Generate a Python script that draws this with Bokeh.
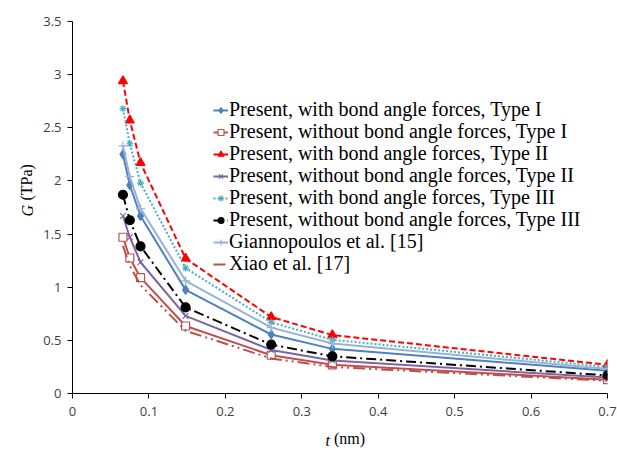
from bokeh.plotting import figure
from bokeh.models import FixedTicker, CustomJSTickFormatter, Legend, LegendItem, Label
from bokeh.embed import file_html
from bokeh.resources import INLINE
import math

# ---- data ----
t_nm = [0.066, 0.075, 0.089, 0.148, 0.26, 0.34, 0.70]
with_I = [2.25, 1.96, 1.67, 0.975, 0.555, 0.42, 0.215]
without_I = [1.47, 1.275, 1.09, 0.635, 0.36, 0.27, 0.13]
with_II = [2.94, 2.57, 2.17, 1.27, 0.72, 0.55, 0.27]
without_II = [1.67, 1.47, 1.235, 0.73, 0.41, 0.31, 0.15]
with_III = [2.68, 2.35, 1.98, 1.18, 0.67, 0.505, 0.25]
without_III = [1.87, 1.63, 1.385, 0.81, 0.46, 0.35, 0.17]
giannopoulos = [2.33, 2.04, 1.74, 1.06, 0.62, 0.47, 0.23]
xiao = [1.39, 1.20, 1.02, 0.59, 0.33, 0.25, 0.12]

x_ticks = [0, 0.1, 0.2, 0.3, 0.4, 0.5, 0.6, 0.7]
y_ticks = [0, 0.5, 1, 1.5, 2, 2.5, 3, 3.5]

names = [
    "Present, with bond angle forces, Type I",
    "Present, without bond angle forces, Type I",
    "Present, with bond angle forces, Type II",
    "Present, without bond angle forces, Type II",
    "Present, with bond angle forces, Type III",
    "Present, without bond angle forces, Type III",
    "Giannopoulos et al. [15]",
    "Xiao et al. [17]",
]

p = figure(frame_width=535, frame_height=372, output_backend="svg", toolbar_location=None,
           x_range=(0, 0.7), y_range=(0, 3.5),
           min_border_left=72, min_border_right=10, min_border_top=21, min_border_bottom=57)
p.outline_line_color = None
p.background_fill_color = "white"
p.grid.visible = False

for ax in (p.xaxis[0], p.yaxis[0]):
    ax.axis_line_color = "black"
    ax.major_tick_line_color = "black"
    ax.major_tick_out = 5
    ax.major_tick_in = 0
    ax.minor_tick_line_color = None
    ax.major_label_text_font = "Open Sans"
    ax.major_label_text_font_size = "13px"
    ax.major_label_text_color = "#404040"
    ax.formatter = CustomJSTickFormatter(code="return (Math.round(tick*10)/10).toString();")
p.xaxis[0].ticker = FixedTicker(ticks=x_ticks)
p.yaxis[0].ticker = FixedTicker(ticks=y_ticks)
p.xaxis[0].major_label_standoff = 8
p.yaxis[0].major_label_standoff = 6

series = []

def add(y, name, color, dash, marker, msize, fill=True, lw=2):
    r_line = p.line(t_nm, y, line_color=color, line_width=lw, line_dash=dash)
    rs = [r_line]
    if marker is not None:
        r_m = p.scatter(t_nm, y, marker=marker, size=msize, line_color=color,
                        fill_color=color if fill else "white", line_width=1.2)
        rs.append(r_m)
    series.append((name, rs))

add(with_I, names[0], "#4F81BD", "solid", "diamond", 9)
add(without_I, names[1], "#C0504D", "solid", "square", 8, fill=False)
add(with_II, names[2], "#FF0000", "6 3", "triangle", 9)
add(without_II, names[3], "#8064A2", "solid", "x", 8)
add(with_III, names[4], "#4BACC6", "2 2", "asterisk", 7)
add(without_III, names[5], "#000000", "10 4 2 4", "circle", 9)
add(giannopoulos, names[6], "#95B3D7", "solid", "cross", 9)
add(xiao, names[7], "#B8504B", "12 4 2 4 2 4", None, 0)

# one legend per row, so rows sit 22 px apart as in the reference
row_bottom = 272  # frame-relative bottom of the first row
for i, (name, rs) in enumerate(series):
    lg = Legend(items=[LegendItem(label=name, renderers=rs)],
                location=(141, row_bottom - 22 * i), orientation="vertical",
                label_text_font="Liberation Serif", label_text_font_size="20px",
                label_text_color="black", glyph_width=15, glyph_height=20,
                label_height=20, spacing=0, padding=0, margin=0,
                label_standoff=1, border_line_alpha=0, background_fill_alpha=0)
    p.add_layout(lg)

# axis titles with italic symbols, placed in the side panels
p.add_layout(Label(x=0.331, y=0, y_units="screen", y_offset=-5, text="t",
                   text_font="Liberation Serif", text_font_style="italic", text_color="black",
                   text_font_size="16px", text_align="left", text_baseline="middle"), "below")
p.add_layout(Label(x=0.342, y=0, y_units="screen", y_offset=14, text="(nm)",
                   text_font="Liberation Serif", text_font_size="16px", text_color="black",
                   text_align="left", text_baseline="middle"), "below")
p.add_layout(Label(x=30, y=1.665, x_units="screen", x_offset=-26, text="G",
                   text_font="Liberation Serif", text_font_style="italic", text_color="black",
                   text_font_size="16px", angle=math.pi / 2,
                   text_align="left", text_baseline="middle"), "left")
p.add_layout(Label(x=30, y=1.815, x_units="screen", x_offset=-10, text="(TPa)",
                   text_font="Liberation Serif", text_font_size="16px", angle=math.pi / 2,
                   text_color="black", text_align="left", text_baseline="middle"), "left")

open("out.html", "w").write(file_html(p, INLINE))
